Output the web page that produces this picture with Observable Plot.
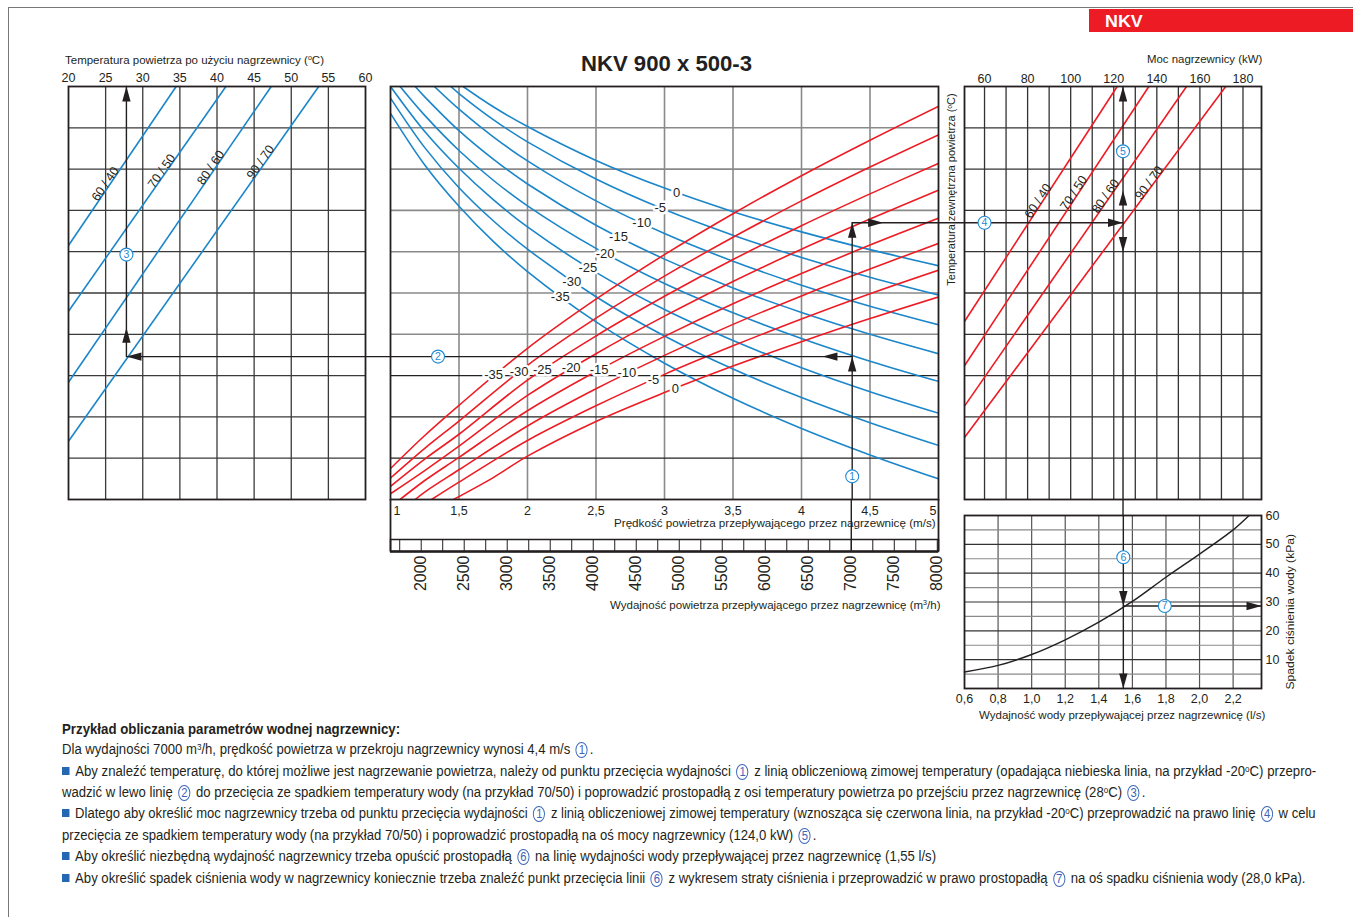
<!DOCTYPE html>
<html><head><meta charset="utf-8">
<script src="https://cdn.jsdelivr.net/npm/d3@7"></script>
<script src="https://cdn.jsdelivr.net/npm/@observablehq/plot@0.6"></script>
<style>
body{margin:0;background:#fff}
#page{position:relative;width:1353px;height:917px;overflow:hidden;background:#fff;font-family:'Liberation Sans',Arial,Helvetica,sans-serif;color:#231f20}
#page > svg{position:absolute;left:0;top:0;overflow:visible}
.t{position:absolute;white-space:nowrap;line-height:1}
.t sup{font-size:.62em;vertical-align:.5em;line-height:0}
.cn{display:inline-block;width:13px;height:16px;border:1px solid #3a64b8;border-radius:50%;color:#3a64b8;font-size:12px;line-height:14px;text-align:center;vertical-align:baseline;margin:0 2px;box-sizing:border-box}
.bl{display:inline-block;width:8px;height:8px;background:#2468b3;margin-right:6px;vertical-align:1px}
</style></head><body><div id="page"></div><script>
// ================= DATA =================
// Left panel: air temperature after the heater vs nomogram height u (0..10)
const waterRegimes = ["60 / 40", "70 / 50", "80 / 60", "90 / 70"];
const outletTempTicks = [20, 25, 30, 35, 40, 45, 50, 55, 60];
const outletStartT = [20, 20, 20, 20];
const outletStartU = [6.15, 4.56, 2.84, 1.41];
const outletEndT = [34.5, 41.2, 47.3, 53.7];
const outletEndU = [10, 10, 10, 10];
const outletLabelT = [25.4, 33.0, 39.6, 46.3];

// Centre panel: air speed (m/s) vs nomogram height u
const speedTicks = [1, 1.5, 2, 2.5, 3, 3.5, 4, 4.5, 5];
const fallingTemps = [0, -5, -10, -15, -20, -25, -30, -35];   // blue, descending
const fallingCurves = [
  [[1.53,10],[1.75,9.51],[2,9.03],[2.5,8.21],[3,7.54],[3.5,6.97],[4,6.48],[4.5,6.05],[5,5.66]],
  [[1.44,10],[1.5,9.83],[1.75,9.20],[2,8.66],[2.5,7.76],[3,7.02],[3.5,6.40],[4,5.86],[4.5,5.38],[5,4.95]],
  [[1.32,10],[1.5,9.45],[1.75,8.78],[2,8.20],[2.5,7.23],[3,6.44],[3.5,5.77],[4,5.19],[4.5,4.68],[5,4.23]],
  [[1.18,10],[1.25,9.75],[1.5,8.93],[1.75,8.24],[2,7.64],[2.5,6.64],[3,5.82],[3.5,5.12],[4,4.53],[4.5,4.00],[5,3.53]],
  [[1.07,10],[1.25,9.30],[1.5,8.45],[1.75,7.73],[2,7.11],[2.5,6.08],[3,5.23],[3.5,4.52],[4,3.90],[4.5,3.35],[5,2.86]],
  [[1,10],[1.25,8.91],[1.5,8.02],[1.75,7.26],[2,6.60],[2.5,5.50],[3,4.60],[3.5,3.85],[4,3.19],[4.5,2.61],[5,2.09]],
  [[1,9.72],[1.25,8.52],[1.5,7.55],[1.75,6.75],[2,6.06],[2.5,4.91],[3,3.96],[3.5,3.16],[4,2.47],[4.5,1.86],[5,1.31]],
  [[1,9.35],[1.25,8.10],[1.5,7.10],[1.75,6.25],[2,5.52],[2.5,4.30],[3,3.30],[3.5,2.45],[4,1.72],[4.5,1.08],[5,0.50]]
];
const fallingLabelS = [3.088, 2.969, 2.834, 2.664, 2.567, 2.440, 2.323, 2.239];
const fallingLabelU = [7.43, 7.06, 6.69, 6.35, 5.95, 5.62, 5.28, 4.90];

const risingTemps = [-35, -30, -25, -20, -15, -10, -5, 0];     // red, ascending
const risingCurves = [
  [[1,0.75],[1.25,1.55],[1.5,2.28],[2,3.66],[2.5,4.85],[3,5.93],[3.5,6.92],[4,7.84],[4.5,8.70],[5,9.52]],
  [[1,0.52],[1.25,1.24],[1.5,1.90],[2,3.25],[2.5,4.39],[3,5.41],[3.5,6.35],[4,7.23],[4.5,8.05],[5,8.83]],
  [[1,0.32],[1.25,0.98],[1.5,1.58],[2,2.89],[2.5,3.96],[3,4.92],[3.5,5.81],[4,6.63],[4.5,7.40],[5,8.14]],
  [[1,0.14],[1.25,0.70],[1.5,1.29],[2,2.52],[2.5,3.53],[3,4.44],[3.5,5.28],[4,6.06],[4.5,6.79],[5,7.49]],
  [[1.07,0],[1.25,0.46],[1.5,1.02],[2,2.15],[2.5,3.10],[3,3.95],[3.5,4.74],[4,5.47],[4.5,6.16],[5,6.81]],
  [[1.18,0],[1.25,0.18],[1.5,0.72],[2,1.78],[2.5,2.68],[3,3.49],[3.5,4.24],[4,4.93],[4.5,5.58],[5,6.20]],
  [[1.30,0],[1.5,0.42],[2,1.43],[2.5,2.27],[3,3.03],[3.5,3.72],[4,4.37],[4.5,4.98],[5,5.55]],
  [[1.46,0],[1.75,0.53],[2,1.05],[2.5,1.89],[3,2.59],[3.5,3.23],[4,3.82],[4.5,4.38],[5,4.905]]
];
const risingLabelS = [1.752, 1.939, 2.109, 2.319, 2.523, 2.725, 2.920, 3.080];
const risingLabelU = [3.02, 3.10, 3.14, 3.18, 3.15, 3.06, 2.90, 2.69];

// Air flow strip (m3/h)
const flowTicks = [2000, 2500, 3000, 3500, 4000, 4500, 5000, 5500, 6000, 6500, 7000, 7500, 8000];

// Right-top panel: heater power (kW)
const powerTicks = [60, 80, 100, 120, 140, 160, 180];
const powerStartKW = [50.7, 50.7, 50.7, 50.7];
const powerStartU = [4.31, 3.24, 2.26, 1.50];
const powerEndKW = [121.6, 136.3, 153.8, 172.0];
const powerEndU = [10, 10, 10, 10];
const powerLabelKW = [86.4, 103.0, 117.7, 137.9];

// Right-bottom panel: water flow (l/s) vs water pressure drop (kPa)
const waterTicks = [0.6, 0.8, 1.0, 1.2, 1.4, 1.6, 1.8, 2.0, 2.2];
const pressureTicks = [10, 20, 30, 40, 50, 60];
const waterFlow = [0.6, 0.8, 1.0, 1.2, 1.4, 1.6, 1.8, 2.0, 2.2, 2.295];
const pressureDrop = [5.7, 8.0, 11.8, 16.9, 23.0, 30.2, 38.6, 46.6, 55.0, 60];

// Worked example
const exOutletTemp = 27.8, exSpeed = 4.37, exFlow = 7000;
const exLowU = 3.46, exHighU = 6.7;
const exPower = 124.3, exWater = 1.546, exPressure = 28.6;

// ================= LAYOUT / STYLE =================
const W = 1353, H = 917;
const FONT = "'Liberation Sans', Arial, Helvetica, sans-serif";
const INK = "#231f20", BLUE = "#1b86c9", RED = "#ed1c24", CIRC = "#1e8ad2";
const LF = {x0: 68, x1: 365, y0: 86, y1: 499};
const CF = {x0: 390, x1: 938, y0: 86, y1: 499};
const FF = {x0: 390, x1: 938, y0: 539, y1: 551};
const PF = {x0: 964, x1: 1261, y0: 86, y1: 499};
const WF = {x0: 964, x1: 1261, y0: 515, y1: 688};
const tDom = [20, 60], sDom = [1, 5], fDom = [1643, 8014], pDom = [50.7, 188.6], wDom = [0.6, 2.369], kDom = [0, 60];
const pxU = (LF.y1 - LF.y0) / 10;
const page = document.getElementById("page");

function panel(F, scales, marks) {
  const svg = Plot.plot({
    width: W, height: H,
    marginLeft: F.x0, marginRight: W - F.x1, marginTop: F.y0, marginBottom: H - F.y1,
    style: {background: "transparent", fontFamily: FONT, color: INK},
    ...scales, marks
  });
  page.appendChild(svg);
}
const comma1 = d => d3.format(".1f")(d).replace(".", ",");
const commaS = d => String(d).replace(".", ",");
function heads(rows) {
  return Plot.vector(rows, {x: d => d[0], y: d => d[1], rotate: d => d[2], length: 15, r: 4.2,
    shape: "spike", anchor: "end", fill: INK, stroke: "none"});
}
function circled(rows) {
  return [
    Plot.dot(rows, {x: d => d[0], y: d => d[1], r: 6.5, stroke: CIRC, strokeWidth: 1.1, fill: "white"}),
    Plot.text(rows, {x: d => d[0], y: d => d[1], text: d => d[2], fill: CIRC, fontSize: 10.5})
  ];
}
const exLine = pts => Plot.line(pts, {stroke: INK, strokeWidth: 1.4});
const gridStyle = (c, w) => ({stroke: c, strokeOpacity: 1, strokeWidth: w});

// ================= HTML TEXT =================
function label(html, o) {
  const el = document.createElement("div");
  el.className = "t";
  el.innerHTML = html;
  el.style.fontSize = o.size + "px";
  if (o.bold) el.style.fontWeight = "bold";
  if (o.color) el.style.color = o.color;
  page.appendChild(el);
  const w = el.offsetWidth, h = el.offsetHeight;
  const s = o.scale != null ? o.scale : o.w / w;
  if (o.rot) {
    el.style.left = (o.cx - w / 2) + "px";
    el.style.top = (o.cy - h / 2) + "px";
    el.style.transformOrigin = "50% 50%";
    el.style.transform = `rotate(-90deg) scaleX(${s})`;
  } else {
    el.style.left = o.x + "px";
    el.style.top = (o.cy - h / 2) + "px";
    el.style.transformOrigin = "0 50%";
    el.style.transform = `scaleX(${s})`;
  }
  return s;
}
// page frame and brand box
const border = document.createElement("div");
Object.assign(border.style, {position: "absolute", left: "8px", top: "7px", width: "1360px", height: "920px",
  borderTop: "1px solid #777", borderLeft: "1px solid #777"});
page.appendChild(border);
const brand = document.createElement("div");
Object.assign(brand.style, {position: "absolute", left: "1089px", top: "9px", width: "264px", height: "23px", background: RED});
page.appendChild(brand);

label("NKV", {x: 1105, w: 38, cy: 21, size: 16.5, bold: true, color: "#fff"});
label("NKV 900 x 500-3", {x: 581, w: 171, cy: 63.5, size: 22, bold: true});
label("Temperatura powietrza po użyciu nagrzewnicy (<sup>o</sup>C)", {x: 65, w: 259, cy: 61, size: 11.5});
label("Moc nagrzewnicy (kW)", {x: 1147, w: 115, cy: 60, size: 11.5});
label("Prędkość powietrza przepływającego przez nagrzewnicę (m/s)", {x: 614, w: 322, cy: 524, size: 11.5});
label("Wydajność powietrza przepływającego przez nagrzewnicę (m<sup>3</sup>/h)", {x: 610, w: 330, cy: 606, size: 11.5});
label("Temperatura zewnętrzna powietrza (<sup>o</sup>C)", {rot: true, cx: 951.5, cy: 189, w: 192, size: 11});
label("Spadek ciśnienia wody (kPa)", {rot: true, cx: 1290.5, cy: 612, w: 156, size: 11.5});
label("Wydajność wody przepływającej przez nagrzewnicę (l/s)", {x: 979, w: 286, cy: 716, size: 11.5});

const C = n => `<span class="cn">${n}</span>`;
const B = `<span class="bl"></span>`;
const deg = "<sup>o</sup>C";
const noteLines = [
  "Dla wydajności 7000 m<sup>3</sup>/h, prędkość powietrza w przekroju nagrzewnicy wynosi 4,4 m/s " + C(1) + ".",
  B + "Aby znaleźć temperaturę, do której możliwe jest nagrzewanie powietrza, należy od punktu przecięcia wydajności " + C(1) + " z linią obliczeniową zimowej temperatury (opadająca niebieska linia, na przykład -20" + deg + ") przepro-",
  "wadzić w lewo linię " + C(2) + " do przecięcia ze spadkiem temperatury wody (na przykład 70/50) i poprowadzić prostopadłą z osi temperatury powietrza po przejściu przez nagrzewnicę (28" + deg + ") " + C(3) + ".",
  B + "Dlatego aby określić moc nagrzewnicy trzeba od punktu przecięcia wydajności " + C(1) + " z linią obliczeniowej zimowej temperatury (wznosząca się czerwona linia, na przykład -20" + deg + ") przeprowadzić na prawo linię " + C(4) + " w celu",
  "przecięcia ze spadkiem temperatury wody (na przykład 70/50) i poprowadzić prostopadłą na oś mocy nagrzewnicy (124,0 kW) " + C(5) + ".",
  B + "Aby określić niezbędną wydajność nagrzewnicy trzeba opuścić prostopadłą " + C(6) + " na linię wydajności wody przepływającej przez nagrzewnicę (1,55 l/s)",
  B + "Aby określić spadek ciśnienia wody w nagrzewnicy koniecznie trzeba znaleźć punkt przecięcia linii " + C(6) + " z wykresem straty ciśnienia i przeprowadzić w prawo prostopadłą " + C(7) + " na oś spadku ciśnienia wody (28,0 kPa)."
];
const noteY = [750, 772, 793, 814, 836, 857, 879];
label("Przykład obliczania parametrów wodnej nagrzewnicy:", {x: 62, w: 338, cy: 729, size: 14, bold: true});
const s3 = label(noteLines[1], {x: 62, w: 1254, cy: noteY[1], size: 14});
const s5 = label(noteLines[3], {x: 62, w: 1254, cy: noteY[3], size: 14});
const sAvg = (s3 + s5) / 2;
[0, 2, 4, 5, 6].forEach(i => label(noteLines[i], {x: 62, scale: sAvg, cy: noteY[i], size: 14}));

// ================= LEFT PANEL =================
{
  const pxT = (LF.x1 - LF.x0) / (tDom[1] - tDom[0]);
  const tAtCentre = tDom[1] + (CF.x0 - LF.x1) / pxT;
  const lab = (d, i) => outletStartU[i] + (outletLabelT[i] - outletStartT[i]) / (outletEndT[i] - outletStartT[i]) * (outletEndU[i] - outletStartU[i]);
  const ang = (d, i) => -Math.atan2((outletEndU[i] - outletStartU[i]) * pxU, (outletEndT[i] - outletStartT[i]) * pxT) * 180 / Math.PI;
  panel(LF, {x: {domain: tDom, axis: null}, y: {domain: [0, 10], axis: null}}, [
    Plot.gridX(outletTempTicks.slice(1, -1), gridStyle("#3a3a3a", 1.3)),
    Plot.gridY(d3.range(1, 10), gridStyle("#3a3a3a", 1.3)),
    Plot.link(waterRegimes, {x1: (d, i) => outletStartT[i], y1: (d, i) => outletStartU[i],
      x2: (d, i) => outletEndT[i], y2: (d, i) => outletEndU[i], stroke: BLUE, strokeWidth: 1.6}),
    ...waterRegimes.map((d, i) => Plot.text([d], {x: () => outletLabelT[i], y: () => lab(d, i), text: d => d,
      rotate: ang(d, i), lineAnchor: "bottom", fontSize: 12.5, fill: INK})),
    Plot.frame({stroke: INK, strokeWidth: 1.8}),
    Plot.axisX(outletTempTicks, {anchor: "top", tickSize: 0, tickPadding: 5, fontSize: 12.5, label: null}),
    exLine([[exOutletTemp, 10], [exOutletTemp, exLowU], [tAtCentre, exLowU]]),
    heads([[exOutletTemp, 10, 0], [exOutletTemp, 4.16, 0], [exOutletTemp, exLowU, -90]]),
    ...circled([[exOutletTemp, 5.93, "3"]])
  ]);
}

// ================= CENTRE PANEL =================
{
  const fallRows = fallingCurves.flatMap((pts, i) => pts.map(([s, u]) => ({s, u, t: fallingTemps[i]})));
  const riseRows = risingCurves.flatMap((pts, i) => pts.map(([s, u]) => ({s, u, t: risingTemps[i]})));
  const halo = {fontSize: 13, fill: INK, stroke: "white", strokeWidth: 5, paintOrder: "stroke"};
  panel(CF, {x: {domain: sDom, axis: null}, y: {domain: [0, 10], axis: null}}, [
    Plot.gridX(speedTicks.slice(1, -1), gridStyle("#8a8a8a", 1.6)),
    Plot.gridY([4, 5, 6, 7, 8, 9], gridStyle("#8a8a8a", 1.6)),
    Plot.gridY([1, 2, 3], gridStyle("#222", 1.3)),
    Plot.line(fallRows, {x: "s", y: "u", z: "t", stroke: BLUE, strokeWidth: 1.6, curve: "catmull-rom", clip: true}),
    Plot.line(riseRows, {x: "s", y: "u", z: "t", stroke: RED, strokeWidth: 1.6, curve: "catmull-rom", clip: true}),
    Plot.text(fallingTemps, {x: (d, i) => fallingLabelS[i], y: (d, i) => fallingLabelU[i], text: d => String(d), ...halo}),
    Plot.text(risingTemps, {x: (d, i) => risingLabelS[i], y: (d, i) => risingLabelU[i], text: d => String(d), ...halo}),
    Plot.frame({stroke: INK, strokeWidth: 1.8}),
    Plot.axisX(speedTicks.slice(1, -1), {anchor: "bottom", tickSize: 0, tickPadding: 7, fontSize: 12.5, tickFormat: commaS, label: null}),
    Plot.axisX([speedTicks[0]], {anchor: "bottom", tickSize: 0, tickPadding: 7, fontSize: 12.5, tickFormat: commaS, textAnchor: "start", dx: 3, label: null}),
    Plot.axisX([speedTicks[speedTicks.length - 1]], {anchor: "bottom", tickSize: 0, tickPadding: 7, fontSize: 12.5, tickFormat: commaS, textAnchor: "end", dx: -2, label: null}),
    exLine([[exSpeed, exHighU], [exSpeed, 0]]),
    exLine([[exSpeed, exLowU], [sDom[0], exLowU]]),
    exLine([[exSpeed, exHighU], [sDom[1], exHighU]]),
    heads([[4.153, exLowU, -90], [exSpeed, exLowU, 0], [exSpeed, exHighU, 0], [4.596, exHighU, 90]]),
    ...circled([[exSpeed, 0.56, "1"], [1.347, exLowU, "2"]])
  ]);
}

// ================= AIR FLOW STRIP =================
{
  const top = 1 + (FF.y0 - CF.y1) / (FF.y1 - FF.y0);
  panel(FF, {x: {domain: fDom, axis: null}, y: {domain: [0, 1], axis: null}}, [
    Plot.ruleX(fDom, {y1: 0, y2: top, stroke: INK, strokeWidth: 1.8}),
    Plot.ruleX(d3.range(1750, 8001, 250), {y1: 0, y2: 1, stroke: INK, strokeWidth: 1}),
    Plot.frame({stroke: INK, strokeWidth: 1.5}),
    Plot.ruleY([0], {stroke: INK, strokeWidth: 2.5}),
    Plot.ruleX([exFlow], {y1: 0, y2: top, stroke: INK, strokeWidth: 1.4}),
    Plot.text(flowTicks, {x: d => d, y: 0, text: d => String(d), rotate: -90, textAnchor: "end",
      lineAnchor: "middle", dy: 4, fontSize: 16, fill: INK})
  ]);
}

// ================= POWER PANEL =================
{
  const pxP = (PF.x1 - PF.x0) / (pDom[1] - pDom[0]);
  const kwAtCentre = pDom[0] - (PF.x0 - CF.x1) / pxP;
  const uBelow = -(WF.y0 - PF.y1) / pxU;
  const lab = (d, i) => powerStartU[i] + (powerLabelKW[i] - powerStartKW[i]) / (powerEndKW[i] - powerStartKW[i]) * (powerEndU[i] - powerStartU[i]);
  const ang = (d, i) => -Math.atan2((powerEndU[i] - powerStartU[i]) * pxU, (powerEndKW[i] - powerStartKW[i]) * pxP) * 180 / Math.PI;
  panel(PF, {x: {domain: pDom, axis: null}, y: {domain: [0, 10], axis: null}}, [
    Plot.gridX(d3.range(60, 181, 10), gridStyle("#333", 1.3)),
    Plot.gridY(d3.range(1, 10), gridStyle("#333", 1.3)),
    Plot.link(waterRegimes, {x1: (d, i) => powerStartKW[i], y1: (d, i) => powerStartU[i],
      x2: (d, i) => powerEndKW[i], y2: (d, i) => powerEndU[i], stroke: RED, strokeWidth: 1.6}),
    ...waterRegimes.map((d, i) => Plot.text([d], {x: () => powerLabelKW[i], y: () => lab(d, i), text: d => d,
      rotate: ang(d, i), lineAnchor: "bottom", fontSize: 12.5, fill: INK})),
    Plot.frame({stroke: INK, strokeWidth: 1.8}),
    Plot.axisX(powerTicks, {anchor: "top", tickSize: 0, tickPadding: 4, fontSize: 12.5, label: null}),
    exLine([[kwAtCentre, exHighU], [exPower, exHighU]]),
    exLine([[exPower, 10], [exPower, uBelow]]),
    heads([[exPower, exHighU, 90], [exPower, 10, 0], [exPower, 7.48, 0], [exPower, 5.99, 180]]),
    ...circled([[60, exHighU, "4"], [exPower, 8.43, "5"]])
  ]);
}

// ================= WATER PANEL =================
{
  const rows = waterFlow.map((q, i) => ({q, p: pressureDrop[i]}));
  panel(WF, {x: {domain: wDom, axis: null}, y: {domain: kDom, axis: null}}, [
    Plot.gridX(waterTicks.slice(1), gridStyle("#555", 1.2)),
    Plot.gridY([5, 15, 25, 35, 45, 55], gridStyle("#8a8a8a", 1.2)),
    Plot.gridY(pressureTicks.slice(0, -1), gridStyle("#333", 1.2)),
    Plot.frame({stroke: INK, strokeWidth: 1.8}),
    Plot.axisX(waterTicks, {anchor: "bottom", tickSize: 0, tickPadding: 6, fontSize: 12.5, tickFormat: comma1, label: null}),
    Plot.axisY(pressureTicks, {anchor: "right", tickSize: 0, tickPadding: 4, fontSize: 12.5, label: null}),
    Plot.line(rows, {x: "q", y: "p", stroke: INK, strokeWidth: 1.4, curve: "catmull-rom"}),
    exLine([[exWater, kDom[1]], [exWater, kDom[0]]]),
    exLine([[exWater, exPressure], [wDom[1], exPressure]]),
    heads([[exWater, exPressure, 180], [exWater, kDom[0], 180], [wDom[1], exPressure, 90]]),
    ...circled([[exWater, 45.5, "6"], [1.793, exPressure, "7"]])
  ]);
}
</script></body></html>
